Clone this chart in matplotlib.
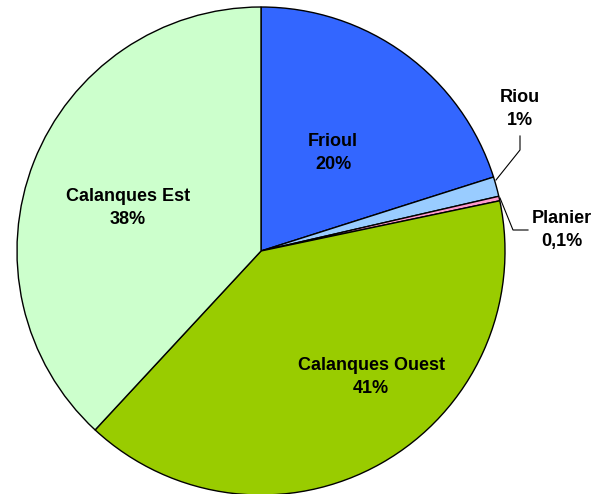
import matplotlib.pyplot as plt

# wedge data, clockwise from the top
names = ["Frioul", "Riou", "Planier", "Calanques Ouest", "Calanques Est"]
values = [20.1, 1.3, 0.3, 40.2, 38.1]
pct_labels = ["20%", "1%", "0,1%", "41%", "38%"]
colors = ["#3366FF", "#99CCFF", "#FF99CC", "#99CC00", "#CCFFCC"]

plt.rcParams['font.family'] = ['Liberation Sans', 'DejaVu Sans']

fig = plt.figure(figsize=(6.05, 4.94), dpi=100)
# square box in pixels: center (261,251), radius 244
cx, cy, r = 261, 251, 244
ax = fig.add_axes([(cx - r) / 605, (494 - cy - r) / 494, 2 * r / 605, 2 * r / 494])

ax.pie(values, colors=colors, startangle=90, counterclock=False,
       wedgeprops=dict(edgecolor="black", linewidth=1.0))
ax.set_xlim(-1, 1)
ax.set_ylim(-1, 1)
ax.axis("off")


def px(x, y):
    return ((x - cx) / r, (cy - y) / r)


txt = dict(fontsize=13, fontweight="bold", ha="center", va="center",
           linespacing=1.5, clip_on=False)

# inner labels
ax.text(*px(333, 153), names[0] + "\n" + pct_labels[0], **txt)
ax.text(*px(371, 377), names[3] + "\n" + pct_labels[3], **txt)
ax.text(*px(128, 208), names[4] + "\n" + pct_labels[4], **txt)

# outer labels with leader lines
ax.text(*px(520, 109), names[1] + "\n" + pct_labels[1], **txt)
ax.text(*px(562, 230), names[2] + "\n" + pct_labels[2], **txt)

riou_line = [px(496, 180), px(520, 150), px(520, 136)]
ax.plot([p[0] for p in riou_line], [p[1] for p in riou_line],
        color="black", linewidth=0.8, clip_on=False)
plan_line = [px(500, 198), px(513, 230), px(528, 230)]
ax.plot([p[0] for p in plan_line], [p[1] for p in plan_line],
        color="black", linewidth=0.8, clip_on=False)

fig.savefig("out.png", dpi=100)
